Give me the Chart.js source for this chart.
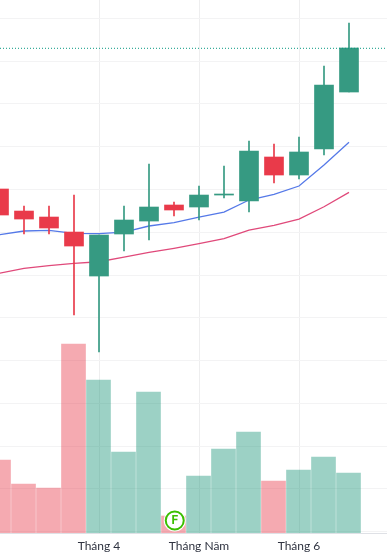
<!DOCTYPE html>
<html>
<head>
<meta charset="utf-8">
<script src="https://cdn.jsdelivr.net/npm/chart.js@4"></script>
<style>
  html, body { margin: 0; padding: 0; background: #fff; overflow: hidden; }
  canvas { display: block; }
</style>
</head>
<body>
<canvas id="chart" width="387" height="559"></canvas>
<script>
// session index, one candle per session
const sessions = [0, 1, 2, 3, 4, 5, 6, 7, 8, 9, 10, 11, 12, 13, 14];

const opens  = [80.11, 74.96, 73.56, 70.05, 59.77, 69.59, 72.62, 76.37, 75.90, 78.70, 77.30, 87.59, 83.38, 89.46, 102.78];
const closes = [74.03, 73.09, 70.99, 66.78, 69.35, 72.86, 75.90, 75.20, 78.70, 78.94, 88.99, 83.38, 88.76, 104.42, 113.07];
const highs  = [80.11, 76.13, 76.13, 78.70, 69.35, 76.13, 85.95, 77.07, 80.81, 85.48, 91.33, 90.62, 92.26, 108.86, 118.91];
const lows   = [74.03, 69.59, 69.59, 50.65, 42.00, 65.61, 68.19, 73.80, 72.86, 78.00, 74.73, 81.51, 82.44, 88.05, 102.78];

const maFast = [69.42, 70.29, 70.45, 69.75, 69.66, 70.05, 71.46, 72.23, 73.56, 74.73, 77.54, 78.87, 80.81, 85.72, 91.02];
const maSlow = [60.40, 61.57, 62.18, 62.74, 63.11, 64.21, 65.31, 66.25, 67.32, 68.49, 70.52, 71.62, 73.09, 75.97, 79.33];

const volumes = [73, 49, 45, 189, 153, 81, 141, 17, 57, 84, 101, 52, 63, 76, 60];

const priceTicks = [0, 10, 20, 30, 40, 50, 60, 70, 80, 90, 100, 110, 120];
const monthTicks = [4, 8, 12];
const monthLabels = ["Tháng 4", "Tháng Năm", "Tháng 6"];

const lastPrice = 113;
const earningsSession = 7.03;
const earningsLevel = 12.5;
const earningsLabel = "F";

const xMin = 0.04, xMax = 15.52;

const UP = "#369A82", DOWN = "#E93A4A";
const UP_VOL = "rgba(8,140,110,0.4)", DOWN_VOL = "rgba(232,58,74,0.43)";
const GRID = "#f3f3f4";

const isUp = i => closes[i] >= opens[i];
const candleColors = sessions.map(i => isUp(i) ? UP : DOWN);
const volumeColors = sessions.map(i => isUp(i) ? UP_VOL : DOWN_VOL);

// letter inside the earnings marker
const markerLetter = {
    id: "markerLetter",
    afterDatasetsDraw(chart) {
        const c = chart.ctx;
        const x = chart.scales.x.getPixelForValue(earningsSession);
        const y = chart.scales.yVol.getPixelForValue(earningsLevel);
        c.save();
        c.font = "bold 12px Roboto";
        c.fillStyle = "#3BBF00";
        c.textAlign = "center";
        c.textBaseline = "middle";
        c.fillText(earningsLabel, x, y + 0.5);
        c.restore();
    }
};

new Chart(document.getElementById("chart"), {
    data: {
        datasets: [
            {
                type: "line", order: 0, xAxisID: "x", yAxisID: "yVol",
                data: [{ x: earningsSession, y: earningsLevel }],
                pointRadius: 9, pointBackgroundColor: "#fff",
                pointBorderColor: "#3BBF00", pointBorderWidth: 2, showLine: false
            },
            {
                type: "line", order: 1, xAxisID: "x", yAxisID: "yVol",
                data: [{ x: earningsSession, y: earningsLevel }],
                pointRadius: 11, pointBackgroundColor: "#fff",
                pointBorderWidth: 0, showLine: false
            },
            {
                type: "line", order: 2, xAxisID: "x", yAxisID: "y",
                data: [{ x: xMin, y: lastPrice }, { x: xMax, y: lastPrice }],
                borderColor: "#089981", borderWidth: 1, borderDash: [1, 2],
                pointRadius: 0
            },
            {
                type: "bar", order: 3, grouped: false, xAxisID: "x", yAxisID: "y",
                data: sessions.map(i => ({ x: i, y: [opens[i], closes[i]] })),
                backgroundColor: candleColors, barThickness: 19, borderSkipped: false
            },
            {
                type: "bar", order: 4, grouped: false, xAxisID: "x", yAxisID: "y",
                data: sessions.map(i => ({ x: i, y: [lows[i], highs[i]] })),
                backgroundColor: candleColors, barThickness: 1, borderSkipped: false
            },
            {
                type: "line", order: 5, xAxisID: "x", yAxisID: "y",
                data: sessions.map(i => ({ x: i, y: maFast[i] })),
                borderColor: "#5579E8", borderWidth: 1.3, pointRadius: 0, tension: 0
            },
            {
                type: "line", order: 6, xAxisID: "x", yAxisID: "y",
                data: sessions.map(i => ({ x: i, y: maSlow[i] })),
                borderColor: "#E0497A", borderWidth: 1.3, pointRadius: 0, tension: 0
            },
            {
                type: "bar", order: 7, grouped: false, xAxisID: "xVol", yAxisID: "yVol",
                data: sessions.map(i => ({ x: i, y: volumes[i] })),
                backgroundColor: volumeColors, barThickness: 24
            }
        ]
    },
    plugins: [markerLetter],
    options: {
        responsive: false,
        animation: false,
        layout: { padding: 0, autoPadding: false },
        plugins: { legend: { display: false }, tooltip: { enabled: false } },
        scales: {
            x: {
                type: "linear", offset: false, min: xMin, max: xMax,
                afterBuildTicks: scale => { scale.ticks = monthTicks.map(v => ({ value: v })); },
                afterFit: scale => { scale.height = 26; },
                ticks: {
                    autoSkip: false, maxRotation: 0, padding: 6, color: "#2f3340",
                    font: { family: "Lato", size: 12 },
                    callback: v => monthLabels[monthTicks.indexOf(v)]
                },
                grid: { color: "#eeeeef", drawTicks: false, offset: false },
                border: { color: "#dfe1e6" }
            },
            xVol: { type: "linear", display: false, offset: false, min: xMin + 0.02, max: xMax + 0.02 },
            y: {
                position: "left", min: -0.3, max: 124.29,
                afterBuildTicks: scale => { scale.ticks = priceTicks.map(v => ({ value: v })); },
                afterFit: scale => { scale.width = 0; },
                ticks: { display: false },
                grid: { color: GRID, drawTicks: false },
                border: { display: false }
            },
            yVol: { display: false, min: 0, max: 533 }
        }
    }
});
</script>
</body>
</html>
